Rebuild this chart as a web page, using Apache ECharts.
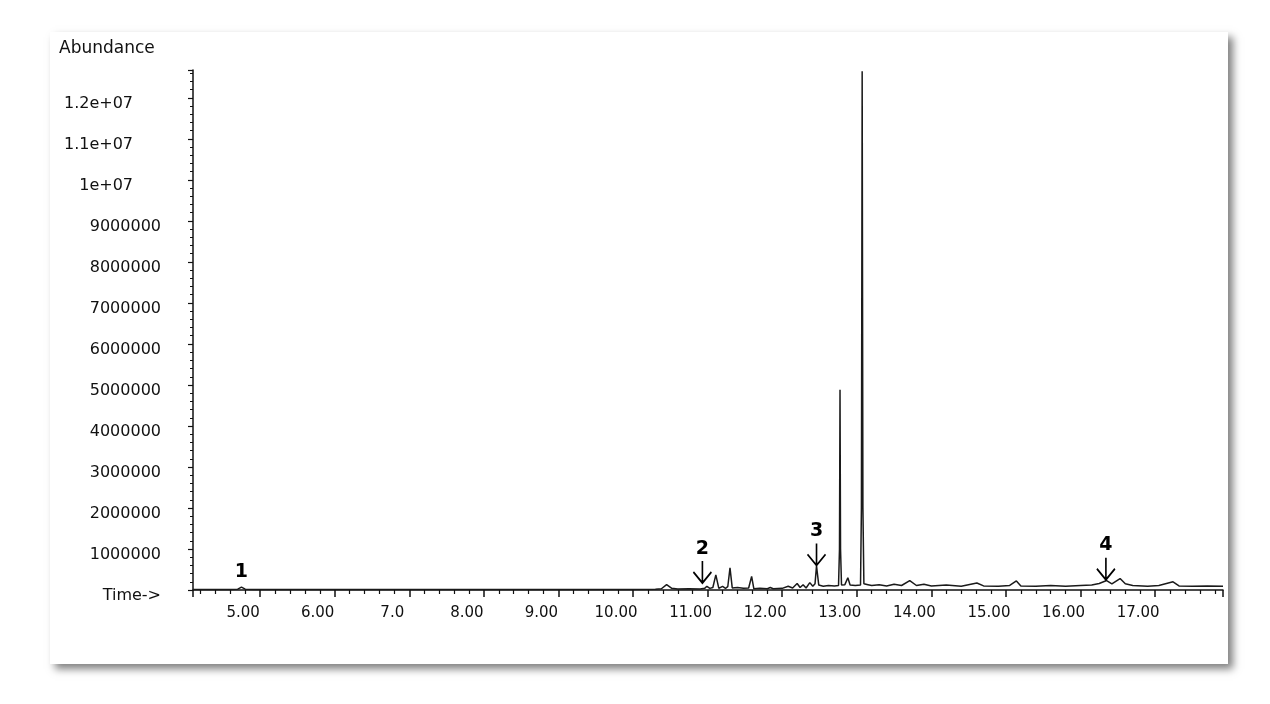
<!DOCTYPE html>
<html>
<head>
<meta charset="utf-8">
<title>Chromatogram</title>
<script src="https://cdn.jsdelivr.net/npm/echarts@6/dist/echarts.min.js"></script>
<style>
  html, body { margin: 0; padding: 0; background: #fff; }
  #card {
    position: absolute; left: 50px; top: 32px; width: 1178px; height: 632px;
    background: #fff; box-shadow: 5px 5px 8px rgba(0,0,0,0.5);
  }
  #chart { position: absolute; left: 0; top: 0; width: 1270px; height: 704px; }
</style>
</head>
<body>
<div id="card"></div>
<div id="chart"></div>
<script>
// retention time (min) and abundance
const times = [
  4.10, 4.60, 4.70, 4.75, 4.80, 4.90, 6.00, 7.00, 8.00, 9.00, 10.00, 10.30,
  10.38, 10.45, 10.52, 10.60, 10.75, 10.90, 10.96, 10.99, 11.03, 11.07, 11.11, 11.15,
  11.20, 11.24, 11.27, 11.30, 11.33, 11.40, 11.48, 11.55, 11.59, 11.62, 11.70, 11.80,
  11.84, 11.88, 12.00, 12.08, 12.14, 12.20, 12.24, 12.28, 12.32, 12.37, 12.41, 12.44,
  12.46, 12.49, 12.55, 12.62, 12.70, 12.755, 12.768, 12.775, 12.782, 12.795, 12.84, 12.88,
  12.91, 12.98, 13.05, 13.062, 13.072, 13.082, 13.095, 13.15, 13.20, 13.30, 13.40, 13.50,
  13.60, 13.71, 13.80, 13.90, 14.00, 14.20, 14.40, 14.61, 14.70, 14.90, 15.05, 15.14,
  15.20, 15.40, 15.60, 15.80, 16.00, 16.15, 16.25, 16.35, 16.42, 16.53, 16.60, 16.70,
  16.90, 17.05, 17.24, 17.32, 17.50, 17.70, 17.91
];
const abundance = [
  15000, 15000, 20000, 70000, 20000, 15000, 15000, 15000, 15000, 15000, 15000, 20000,
  30000, 130000, 40000, 25000, 30000, 25000, 40000, 90000, 40000, 60000, 370000, 40000,
  90000, 40000, 80000, 540000, 50000, 60000, 40000, 50000, 330000, 30000, 40000, 30000,
  60000, 30000, 40000, 90000, 50000, 160000, 60000, 130000, 50000, 180000, 90000, 150000,
  590000, 120000, 90000, 110000, 100000, 110000, 1000000, 4880000, 1000000, 120000, 130000, 300000,
  120000, 110000, 120000, 2000000, 12650000, 2000000, 150000, 130000, 110000, 130000, 100000, 140000,
  110000, 230000, 110000, 140000, 100000, 120000, 90000, 170000, 100000, 90000, 110000, 220000,
  100000, 90000, 110000, 90000, 110000, 120000, 160000, 230000, 150000, 280000, 150000, 110000,
  90000, 110000, 200000, 100000, 90000, 100000, 90000
];

// numbered peak markers: time, abundance at the arrow tip, label, arrow shown
const annTimes = [4.75, 10.93, 12.46, 16.34];
const annValues = [130000, 170000, 600000, 250000];
const annLabels = ['1', '2', '3', '4'];
const annArrow = [false, true, true, true];

const yMax = 12680000;

const chart = echarts.init(document.getElementById('chart'));

const arrowPath = 'path://M9,0 L9,22 M0,11 L9,22 L18,11';

chart.setOption({
  animation: false,
  title: {
    text: 'Abundance',
    left: 54,
    top: 35,
    textStyle: { fontFamily: 'DejaVu Sans', fontSize: 17, fontWeight: 'normal', color: '#111' }
  },
  grid: { left: 193, right: 47, top: 70, bottom: 114 },
  xAxis: {
    type: 'value',
    min: 4.1,
    max: 17.91,
    splitNumber: 14,
    axisLine: { lineStyle: { color: '#111', width: 1.5 } },
    axisTick: { length: 7, lineStyle: { color: '#111', width: 1.5 } },
    minorTick: { show: true, splitNumber: 5, length: 4, lineStyle: { color: '#111', width: 1.2 } },
    splitLine: { show: false },
    axisLabel: {
      margin: 16,
      padding: [0, 34, 0, 0],
      fontFamily: 'DejaVu Sans',
      fontSize: 15,
      color: '#111',
      formatter: function (v) {
        if (Math.abs(v - Math.round(v)) > 1e-6) return '';
        return v === 7 ? '7.0' : v.toFixed(2);
      }
    }
  },
  yAxis: {
    type: 'value',
    min: 0,
    max: yMax,
    interval: 1000000,
    axisLine: { show: true, lineStyle: { color: '#111', width: 1.5 } },
    axisTick: { show: true, length: 5, lineStyle: { color: '#111', width: 1.2 } },
    minorTick: { show: true, splitNumber: 5, length: 3, lineStyle: { color: '#111', width: 1 } },
    splitLine: { show: false },
    axisLabel: {
      margin: 32,
      padding: [12, 0, 0, 0],
      fontFamily: 'DejaVu Sans',
      fontSize: 16,
      color: '#111',
      formatter: function (v) {
        if (v === 0) return 'Time->';
        if (v % 1000000 !== 0) return '';
        if (v >= 10000000) {
          return '{e|' + v.toExponential().replace('e+', 'e+0') + '}';
        }
        return String(v);
      },
      rich: {
        e: { fontFamily: 'DejaVu Sans', fontSize: 16, color: '#111', padding: [0, 28, 0, 0] }
      }
    }
  },
  series: [
    {
      name: 'TIC',
      type: 'line',
      data: times.map(function (t, i) { return [t, abundance[i]]; }),
      symbol: 'none',
      lineStyle: { color: '#1a1a1a', width: 1.5 },
      z: 3
    },
    {
      name: 'peaks',
      type: 'scatter',
      data: annTimes.map(function (t, i) {
        return {
          value: [t, annValues[i]],
          symbolSize: annArrow[i] ? [18, 22] : [1, 1],
          itemStyle: { borderColor: annArrow[i] ? '#000' : 'transparent' },
          label: { formatter: annLabels[i] }
        };
      }),
      symbol: arrowPath,
      symbolOffset: [0, '-50%'],
      itemStyle: { color: 'none', borderColor: '#000', borderWidth: 1.8, opacity: 1 },
      label: {
        show: true,
        position: 'top',
        distance: 0,
        fontFamily: 'DejaVu Sans',
        fontSize: 19,
        fontWeight: 'bold',
        color: '#000',
        opacity: 1
      },
      emphasis: { disabled: true },
      z: 4
    }
  ]
});
</script>
</body>
</html>
